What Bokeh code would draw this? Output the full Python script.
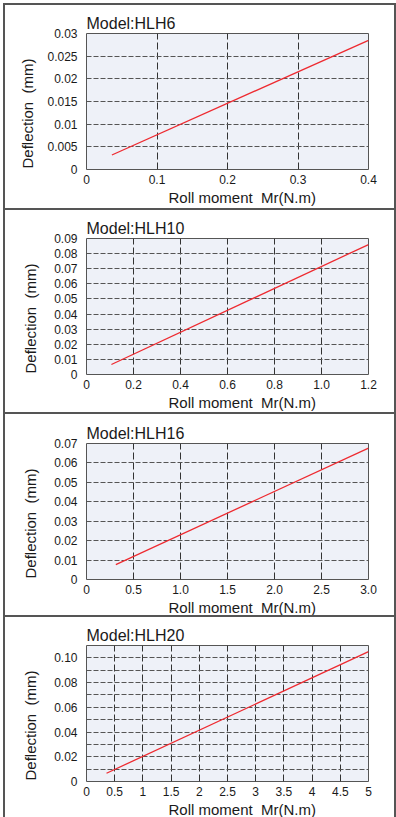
from bokeh.plotting import figure
from bokeh.layouts import column
from bokeh.models import FixedTicker, Title
from bokeh.embed import file_html
from bokeh.resources import INLINE

# ---------------- data ----------------
models = ["Model:HLH6", "Model:HLH10", "Model:HLH16", "Model:HLH20"]
x_label = "Roll moment\u00a0\u00a0Mr(N.m)"
y_label = "Deflection\u00a0\u00a0(mm)"

x_max = [0.4, 1.2, 3.0, 5.0]
y_max = [0.03, 0.09, 0.07, 0.11]

hlh6_x = [0.036, 0.4]
hlh6_y = [0.0032, 0.0285]
hlh10_x = [0.106, 1.2]
hlh10_y = [0.0066, 0.086]
hlh16_x = [0.312, 3.0]
hlh16_y = [0.0077, 0.0676]
hlh20_x = [0.355, 5.0]
hlh20_y = [0.0067, 0.105]

hlh6_xticks = [0, 0.1, 0.2, 0.3, 0.4]
hlh6_xlabels = ["0", "0.1", "0.2", "0.3", "0.4"]
hlh6_yticks = [0, 0.005, 0.01, 0.015, 0.02, 0.025, 0.03]
hlh6_ylabels = ["0", "0.005", "0.01", "0.015", "0.02", "0.025", "0.03"]
hlh6_yminor = []

hlh10_xticks = [0, 0.2, 0.4, 0.6, 0.8, 1.0, 1.2]
hlh10_xlabels = ["0", "0.2", "0.4", "0.6", "0.8", "1.0", "1.2"]
hlh10_yticks = [0, 0.01, 0.02, 0.03, 0.04, 0.05, 0.06, 0.07, 0.08, 0.09]
hlh10_ylabels = ["0", "0.01", "0.02", "0.03", "0.04", "0.05", "0.06", "0.07", "0.08", "0.09"]
hlh10_yminor = []

hlh16_xticks = [0, 0.5, 1.0, 1.5, 2.0, 2.5, 3.0]
hlh16_xlabels = ["0", "0.5", "1.0", "1.5", "2.0", "2.5", "3.0"]
hlh16_yticks = [0, 0.01, 0.02, 0.03, 0.04, 0.05, 0.06, 0.07]
hlh16_ylabels = ["0", "0.01", "0.02", "0.03", "0.04", "0.05", "0.06", "0.07"]
hlh16_yminor = []

hlh20_xticks = [0, 0.5, 1, 1.5, 2, 2.5, 3, 3.5, 4, 4.5, 5]
hlh20_xlabels = ["0", "0.5", "1", "1.5", "2", "2.5", "3", "3.5", "4", "4.5", "5"]
hlh20_yticks = [0, 0.02, 0.04, 0.06, 0.08, 0.10]
hlh20_ylabels = ["0", "0.02", "0.04", "0.06", "0.08", "0.10"]
hlh20_yminor = [0.01, 0.03, 0.05, 0.07, 0.09]

panels = [
    (models[0], x_max[0], y_max[0], hlh6_x, hlh6_y, hlh6_xticks, hlh6_xlabels, hlh6_yticks, hlh6_ylabels, hlh6_yminor),
    (models[1], x_max[1], y_max[1], hlh10_x, hlh10_y, hlh10_xticks, hlh10_xlabels, hlh10_yticks, hlh10_ylabels, hlh10_yminor),
    (models[2], x_max[2], y_max[2], hlh16_x, hlh16_y, hlh16_xticks, hlh16_xlabels, hlh16_yticks, hlh16_ylabels, hlh16_yminor),
    (models[3], x_max[3], y_max[3], hlh20_x, hlh20_y, hlh20_xticks, hlh20_xlabels, hlh20_yticks, hlh20_ylabels, hlh20_yminor),
]

# ---------------- layout / style ----------------
FIG_W = 389
heights = [203, 202, 201, 200]
border_top = [28, 28, 29, 28]
border_bottom = [39, 38, 36, 34]
ylabel_standoff = [18, 25, 25, 25]
FONT = "Liberation Sans"
EDGE = "2px solid #555555"

panels_dom = []
for i, (name, xm, ym, xs, ys, xt, xl, yt, yl, ymin) in enumerate(panels):
    h = heights[i]
    p = figure(width=FIG_W, height=h, x_range=(0, xm), y_range=(0, ym),
               output_backend="svg", toolbar_location=None,
               min_border_left=81, min_border_right=26,
               min_border_top=border_top[i], min_border_bottom=border_bottom[i])
    p.title.text = name
    p.title.align = "left"
    p.title.text_font = FONT
    p.title.text_font_size = "16px"
    p.title.text_font_style = "normal"
    p.title.text_color = "#1a1a1a"
    p.title.standoff = 4

    p.background_fill_color = "#eef1f8"
    p.border_fill_color = "white"
    p.outline_line_color = "#555555"
    p.outline_line_width = 1

    p.xaxis.ticker = FixedTicker(ticks=xt)
    p.xaxis.major_label_overrides = {t: l for t, l in zip(xt, xl)}
    p.yaxis.ticker = FixedTicker(ticks=yt, minor_ticks=ymin)
    p.yaxis.major_label_overrides = {t: l for t, l in zip(yt, yl)}
    for ax in (p.xaxis, p.yaxis):
        ax.axis_line_color = None
        ax.major_tick_line_color = None
        ax.minor_tick_line_color = None
        ax.major_tick_out = 0
        ax.major_tick_in = 0
        ax.minor_tick_out = 0
        ax.minor_tick_in = 0
        ax.major_label_text_font = FONT
        ax.major_label_text_font_size = "12px"
        ax.major_label_text_color = "#1a1a1a"
    p.xaxis.major_label_standoff = 5
    p.yaxis.major_label_standoff = 9

    p.xgrid.grid_line_color = "#333333"
    p.xgrid.grid_line_dash = "7 3"
    p.xgrid.grid_line_width = 1
    p.ygrid.grid_line_color = "#555555"
    p.ygrid.grid_line_dash = "5 2"
    p.ygrid.grid_line_width = 1
    if ymin:
        p.ygrid.minor_grid_line_color = "#555555"
        p.ygrid.minor_grid_line_dash = "5 2"

    p.add_layout(Title(text=x_label, align="left", offset=82, text_font=FONT,
                       text_font_size="15px", text_font_style="normal",
                       text_color="#1a1a1a", standoff=0), "below")
    p.add_layout(Title(text=y_label, align="left", offset=1, text_font=FONT,
                       text_font_size="15px", text_font_style="normal",
                       text_color="#1a1a1a", standoff=ylabel_standoff[i]), "left")

    p.line(xs, ys, line_color="#ee2a30", line_width=1.3)

    box = column(p, spacing=0,
                 styles={"border-top": EDGE, "border-left": EDGE, "border-right": EDGE})
    panels_dom.append(box)

layout = column(*panels_dom, spacing=0, margin=(3, 0, 0, 3))
open("out.html", "w").write(file_html(layout, INLINE))
